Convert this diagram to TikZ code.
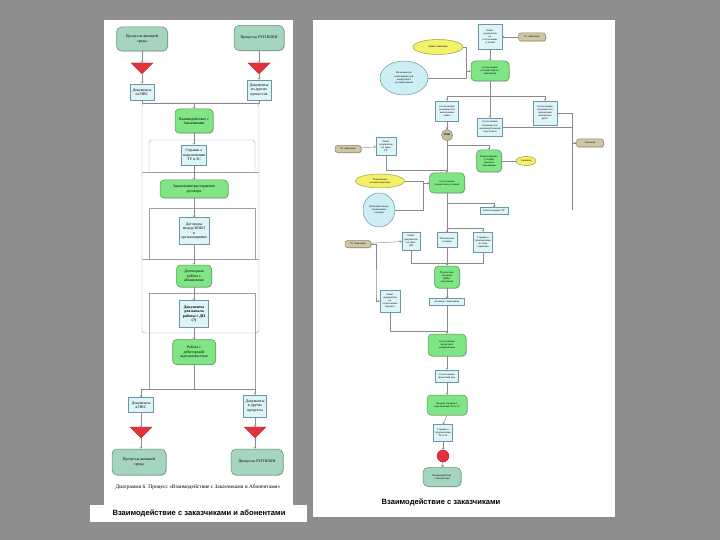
\documentclass[tikz,border=0pt]{standalone}
\usepackage{fontspec}
\setmainfont{Liberation Serif}
\newfontfamily\capfont{Liberation Sans}
\usetikzlibrary{shapes.geometric,shadows,arrows.meta}
\definecolor{bgC}{HTML}{8E8E8E}
\definecolor{lnC}{HTML}{8A8A8A}
\definecolor{frC}{HTML}{A0A0A0}
\definecolor{gF}{HTML}{80E585}
\definecolor{gB}{HTML}{4E9A52}
\definecolor{tF}{HTML}{A5D4BF}
\definecolor{tB}{HTML}{5E8E7A}
\definecolor{cF}{HTML}{DDF5F8}
\definecolor{cF2}{HTML}{CDEEF4}
\definecolor{cB}{HTML}{6A98A2}
\definecolor{yF}{HTML}{F3F06A}
\definecolor{yB}{HTML}{A09E3C}
\definecolor{pF}{HTML}{CFC6A4}
\definecolor{pB}{HTML}{8A846A}
\definecolor{triC}{HTML}{E2323C}
\definecolor{iliF}{HTML}{C4BDA0}
\begin{document}
\begin{tikzpicture}[x=1pt,y=-1pt,
  ln/.style={draw=lnC, line width=0.45pt},
  fr/.style={draw=frC, line width=0.4pt},
  arr/.style={ln, -{Straight Barb[length=1.6pt,width=2.6pt]}},
  base/.style={align=center, inner sep=0.4pt, line width=0.5pt},
  shd/.style={drop shadow={shadow xshift=0.8pt,shadow yshift=-0.8pt,fill=black!35}},
  fL/.style={font=\fontsize{3.9}{4.5}\selectfont},
  fR/.style={font=\fontsize{2.7}{3.1}\selectfont},
  sz/.style 2 args={minimum width=#1pt, minimum height=#2pt},
  gnode/.style={base, shd, rectangle, rounded corners=4pt, draw=gB, fill=gF},
  tnode/.style={base, shd, rectangle, rounded corners=5pt, draw=tB, fill=tF},
  doc/.style={base, shd, rectangle, draw=cB, fill=cF},
  pill/.style={base, shd, rectangle, rounded corners=2.5pt, draw=pB, fill=pF},
  yel/.style={base, ellipse, draw=yB, fill=yF, inner sep=0pt},
  cyel/.style={base, ellipse, draw=cB, fill=cF2, inner sep=0pt}
]
\useasboundingbox (0,0) rectangle (720,540);
\fill[bgC] (0,0) rectangle (720,540);
\fill[white] (104,20) rectangle (293,505);
\fill[white] (90,505) rectangle (307,522);
\fill[white] (313,20) rectangle (615,517);

% ================= LEFT PANEL =================
% frames
\draw[fr, rounded corners=3pt] (142,103) rectangle (259,333);
\draw[fr, rounded corners=3pt] (149,172) -- (149,140) -- (255,140) -- (255,172);
\draw[fr] (142,172) -- (259,172);
\draw[fr] (149,208) rectangle (255,259);
\draw[fr] (142,259) -- (259,259);
\draw[fr] (149,389) -- (149,293) -- (255,293) -- (255,389);

\node[tnode, fL, sz={51}{24}] (a1) at (142,39) {Процессы внешней\\среды};
\node[tnode, fL, sz={50}{25}] (a2) at (259,38) {Процессы РУП ВОБН};
\fill[triC, draw=triC!70!black, line width=0.3pt] (131,63) -- (153,63) -- (142,74) -- cycle;
\coordinate (t1n) at (142,63); \coordinate (t1s) at (142,74);
\fill[triC, draw=triC!70!black, line width=0.3pt] (248,63) -- (270,63) -- (259,74) -- cycle;
\coordinate (t2n) at (259,63); \coordinate (t2s) at (259,74);
\node[doc, fL, sz={24}{16}] (d1) at (142,92) {Документы\\из ПВС};
\node[doc, fL, sz={24}{20}] (d2) at (259,90) {Документы\\из других\\процессов};

\node[gnode, fL, sz={38}{24}] (g1) at (194,121) {Взаимодействие с\\Заказчиками};
\node[doc, fL, sz={25}{20}] (d3) at (194,155) {Справка о\\подключении\\ТУ и ЗС};
\node[gnode, fL, sz={68}{18}] (g2) at (194,189) {Заключение/расторжение\\договора};
\node[doc, fL, sz={30}{27}] (d4) at (194,231) {Договоры\\между ВОБО\\и\\организациями};
\node[gnode, fL, sz={35}{22}] (g3) at (194,276) {Договорная\\работа с\\абонентами};
\node[doc, fL, sz={29}{27}, font=\fontsize{3.9}{4.5}\selectfont\bfseries] (d5) at (194,314) {Документы\\для начала\\работы с ДП\\(?)};
\node[gnode, fL, sz={43}{25}] (g4) at (194,352) {Работа с\\дебиторской\\задолженностью};

\node[doc, fL, sz={25}{15}] (d6) at (141,405) {Документы\\в ПВС};
\node[doc, fL, sz={23}{22}] (d7) at (255,406) {Документы\\в другие\\процессы};
\fill[triC, draw=triC!70!black, line width=0.3pt] (130,427) -- (152,427) -- (141,438) -- cycle;
\coordinate (t3n) at (141,427); \coordinate (t3s) at (141,438);
\fill[triC, draw=triC!70!black, line width=0.3pt] (244,427) -- (266,427) -- (255,438) -- cycle;
\coordinate (t4n) at (255,427); \coordinate (t4s) at (255,438);
\node[tnode, fL, sz={54}{26}] (b1) at (139,462) {Процессы внешней\\среды};
\node[tnode, fL, sz={52}{26}] (b2) at (257,462) {Процессы РУП ВОБН};

\draw[arr] (a1) -- (t1n);
\draw[arr] (t1s) -- (d1);
\draw[arr] (a2) -- (t2n);
\draw[arr] (t2s) -- (d2);
\draw[ln] (d1.south) -- (142,103) -- (259,103) -- (d2.south);
\coordinate (lj1) at (194,103);
\draw[arr] (lj1) -- (g1);
\draw[arr] (g1) -- (d3);
\draw[arr] (d3) -- (g2);
\draw[arr] (g2) -- (d4);
\draw[arr] (d4) -- (g3);
\draw[arr] (g3) -- (d5);
\draw[arr] (d5) -- (g4);
\coordinate (lb1) at (141,389); \coordinate (lb2) at (255,389);
\draw[ln] (g4.south) -- (194,389);
\draw[ln] (lb1) -- (lb2);
\draw[arr] (lb1) -- (d6);
\draw[arr] (lb2) -- (d7);
\draw[arr] (d6) -- (t3n);
\draw[arr] (t3s) -- (b1.north -| t3s);
\draw[arr] (d7) -- (t4n);
\draw[arr] (t4s) -- (b2.north -| t4s);

\node[font=\fontsize{5.4}{6}\selectfont] (capL) at (198,487) {Диаграмма 6. Процесс «Взаимодействие с Заказчиками и Абонентами»};
\node[font=\capfont\bfseries\fontsize{7.6}{8.4}\selectfont] (labL) at (199,513.5) {Взаимодействие с заказчиками и абонентами};

% ================= RIGHT PANEL =================
\node[doc, fR, sz={24}{25}] (rtb) at (490,37) {Пакет\\документов\\на\\согласование\\условий};
\node[pill, fR, sz={27}{8}] (rp1) at (532,37) {От Заказчика};
\node[yel, fR, sz={50}{15}] (ry1) at (438,47) {Заявка заказчика};
\node[cyel, fR, sz={48}{34}] (rce) at (404,78) {Возможности\\выполнения для\\конкретного\\договора/заказа};
\node[gnode, fR, sz={38}{20}] (rg1) at (490,71) {Согласование\\условий заказа с\\заказчиком};

\node[doc, fR, sz={23}{20}] (rb1) at (447,111) {Согласование\\возможности\\выполнения\\заказа};
\node[doc, fR, sz={25}{18}] (rb2) at (490,127) {Согласование\\возможности\\производственной\\подготовки};
\node[doc, fR, sz={24}{24}] (rb3) at (545,113) {Согласование\\возможности\\проведения\\монтажных\\работ};
\node[pill, fR, sz={27}{8}] (rpz) at (590,143) {Заказчик};
\node[circle, draw=pB, fill=iliF, line width=0.5pt, minimum size=11pt, inner sep=0pt, font=\fontsize{2.6}{3}\selectfont\bfseries, shd] (ili) at (447,135) {ИЛИ};

\node[doc, fR, sz={20}{18}] (rtu) at (386,146) {Пакет\\документов\\на заказ\\ТУ};
\node[pill, fR, sz={26}{7}] (rp2) at (348,149) {От Заказчика};
\node[gnode, fR, sz={25}{22}] (rgk) at (489,161) {Корректировка\\условий\\заказа по\\замечаниям};
\node[yel, fR, sz={20}{9}] (ry2) at (526,161) {Заказчик};
\node[gnode, fR, sz={35}{20}] (rgt) at (447,183) {Согласование\\технических условий};
\node[yel, fR, sz={49}{14}] (ry3) at (380,181) {Технические\\условия заказчика};
\node[cyel, fR, sz={32}{34}] (rcc) at (379,210) {Дополнительные\\технические\\условия};
\node[doc, fR, sz={28}{7}] (rotk) at (494,211) {Отказ в выдаче ТУ};

\node[doc, fR, sz={18}{18}] (rdp) at (411,241) {Пакет\\документов\\на заказ\\ДП};
\node[pill, fR, sz={26}{7}] (rp3) at (358,244) {От Заказчика};
\node[doc, fR, sz={20}{15}] (rtech) at (447,240) {Технические\\условия};
\node[doc, fR, sz={19}{20}] (rspr) at (483,242) {Справка о\\подключении\\к сетям\\заказчика};
\node[gnode, fR, sz={25}{22}] (rgp) at (447,277) {Подготовка\\договора\\(ДП) с\\заказчиком};
\node[doc, fR, sz={35}{7}] (rdog) at (447,302) {Договор с заказчиком};
\node[doc, fR, sz={20}{22}] (rpr) at (390,301) {Пакет\\документов\\на\\согласование\\проекта};
\node[gnode, fR, sz={38}{22}] (rgs) at (447,345) {Согласование\\проектной\\документации};
\node[doc, fR, sz={23}{12}] (rotg) at (447,376) {Согласование\\проектной док.};
\node[gnode, fR, sz={40}{20}] (rgv) at (447,405) {Выдача справки о\\подключении ТУ и ЗС};
\node[doc, fR, sz={19}{17}] (rsp2) at (443,433) {Справка о\\подключении\\ТУ и ЗС};
\node[circle, fill=triC, draw=triC!70!black, line width=0.4pt, minimum size=12pt, inner sep=0pt] (rend) at (443,456) {};
\node[tnode, fR, sz={38}{19}] (rfin) at (442,477) {Взаимодействие\\с абонентами};

% connectors right
\draw[arr] (rp1) -- (rtb);
\draw[arr] (rtb) -- (rg1);
\coordinate (rj1) at (466,71);
\draw[ln] (ry1.east) -| (rj1);
\draw[ln] (rce.east) -| (rj1);
\draw[arr] (rj1) -- (rg1.west);
\coordinate (rh1) at (447,96); \coordinate (rh2) at (545,96);
\draw[ln] (rg1.south) -- (490,96);
\draw[ln] (rh1) -- (rh2);
\draw[arr] (rh1) -- (rb1);
\draw[arr] (rh2) -- (rb3);
\draw[arr] (490,96) -- (rb2);
\coordinate (rv1) at (572,113); \coordinate (rv2) at (572,210);
\draw[ln] (rb3.east) -- (rv1) -- (rv2);
\draw[ln] (rb2.east) -- (572,127);
\draw[arr] (572,143) -- (rpz.west);
\draw[arr] (rb1) -- (ili);
\draw[arr] (ili) -- (rgt);
\coordinate (rj2) at (447,145);
\draw[arr] (rj2) -| (rgk.north);
\draw[ln] (rgk) -- (ry2);
\draw[arr] (rp2) -- (rtu);
\draw[ln] (rtu.south) |- (447,170);
\coordinate (rj3) at (423,183);
\draw[ln] (ry3.east) -| (rj3);
\draw[ln] (rcc.east) -| (rj3);
\draw[arr] (rj3) -- (rgt.west);
\draw[arr] (rgt) -- (rtech);
\coordinate (rj4) at (447,203); \coordinate (rj5) at (447,228);
\draw[arr] (rj4) -| (rotk.north);
\draw[arr] (rj5) -| (rspr.north);
\draw[arr] (rp3) -- (rdp);
\draw[arr] (rp3.east) -| (376,294) |- (rpr.west);
\coordinate (rj6) at (447,263);
\draw[ln] (rdp.south) |- (rj6);
\draw[ln] (rspr.south) |- (rj6);
\draw[arr] (rtech) -- (rgp);
\draw[arr] (rgp) -- (rdog);
\draw[arr] (rdog) -- (rgs);
\draw[ln] (rpr.south) |- (447,331);
\draw[arr] (rgs) -- (rotg);
\draw[arr] (rotg) -- (rgv);
\draw[arr] (rgv.south) -- (rsp2.north);
\draw[arr] (rsp2) -- (rend);
\draw[arr] (rend) -- (rfin);

\node[font=\capfont\bfseries\fontsize{7.6}{8.4}\selectfont] (labR) at (441,502) {Взаимодействие с заказчиками};
\end{tikzpicture}
\end{document}
